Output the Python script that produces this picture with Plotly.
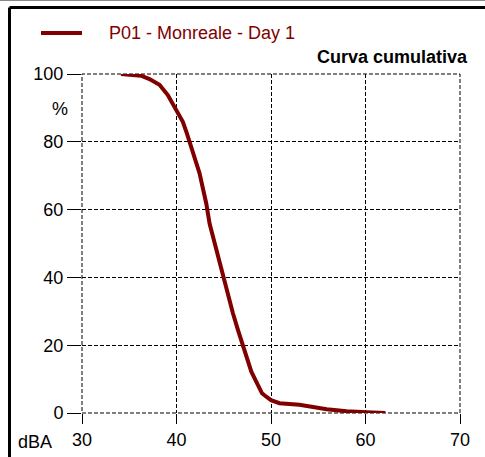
import plotly.graph_objects as go

dba = [34.13, 35.37, 36.25, 37.14, 38.20, 39.08, 39.96, 40.67, 41.10, 41.56, 42.09, 42.44,
       42.79, 43.15, 43.50, 44.03, 44.56, 45.09, 45.44, 45.97, 46.50, 47.03, 47.39, 47.92,
       48.45, 48.91, 49.05, 49.5, 50.0, 50.9, 53.0, 55.9, 58.0, 60.1, 62.1]
pct = [100.0, 99.8, 99.5, 98.5, 96.8, 93.8, 89.4, 85.9, 82.5, 78.6, 74.6, 70.7,
       66.3, 61.8, 55.9, 50.0, 44.2, 39.2, 34.3, 29.4, 24.5, 19.6, 16.1, 12.2,
       9.2, 7.0, 5.8, 4.8, 3.8, 2.9, 2.4, 1.1, 0.5, 0.2, 0.0]
x_ticks = [30, 40, 50, 60, 70]
y_ticks = [0, 20, 40, 60, 80, 100]
series_name = "P01 - Monreale - Day 1"
title_text = "Curva cumulativa"

RED = "#800000"
FONT = "Liberation Sans, Arial, sans-serif"
DASH = "4px,2px"

W, H = 485, 457
L, R, T, B = 82, 25, 74, 44
pw, ph = W - L - R, H - T - B

def px(x):
    return (x - L) / pw

def py(y):
    return (H - B - y) / ph

fig = go.Figure()
fig.add_trace(go.Scatter(x=dba, y=pct, mode="lines", name=series_name,
                         line=dict(color=RED, width=4), showlegend=False))

axis_common = dict(showgrid=True, gridcolor="black", griddash=DASH, gridwidth=1,
                   zeroline=False, showline=False, ticks="outside", tickcolor="black",
                   tickwidth=1, tickfont=dict(family=FONT, size=18, color="black"))
fig.update_xaxes(range=[30, 70], tickvals=x_ticks, ticklen=10, automargin=False, **axis_common)
fig.update_yaxes(range=[0, 100], tickvals=y_ticks, ticklen=14, automargin=False, **axis_common)

shapes = [
    # plot-area edge lines (dashed, like the grid)
    dict(type="rect", xref="x domain", yref="y domain", x0=0, x1=1, y0=0, y1=1,
         line=dict(color="black", width=1, dash=DASH), layer="below"),
    # outer frame
    dict(type="line", xref="paper", yref="paper", x0=px(9.5), x1=px(W + 5), y0=py(7.5), y1=py(7.5),
         line=dict(color="black", width=3)),
    dict(type="line", xref="paper", yref="paper", x0=px(9.5), x1=px(9.5), y0=py(7.5), y1=py(H + 5),
         line=dict(color="black", width=3)),
    dict(type="line", xref="paper", yref="paper", x0=px(0), x1=px(W), y0=py(0.5), y1=py(0.5),
         line=dict(color="#888888", width=1)),
    # legend sample line
    dict(type="line", xref="paper", yref="paper", x0=px(41), x1=px(82), y0=py(33), y1=py(33),
         line=dict(color=RED, width=4)),
]

annotations = [
    dict(text=series_name, xref="paper", yref="paper", x=px(107), y=py(33), xanchor="left",
         yanchor="middle", showarrow=False, font=dict(family=FONT, size=18, color=RED)),
    dict(text="<b>" + title_text + "</b>", xref="paper", yref="paper", x=px(470), y=py(57),
         xanchor="right", yanchor="middle", showarrow=False,
         font=dict(family=FONT, size=18, color="black")),
    dict(text="%", xref="paper", yref="paper", x=px(60), y=py(109), xanchor="center",
         yanchor="middle", showarrow=False, font=dict(family=FONT, size=18, color="black")),
    dict(text="dBA", xref="paper", yref="paper", x=px(35), y=py(442), xanchor="center",
         yanchor="middle", showarrow=False, font=dict(family=FONT, size=18, color="black")),
]

fig.update_layout(width=W, height=H, margin=dict(l=L, r=R, t=T, b=B, pad=0, autoexpand=False),
                  plot_bgcolor="white", paper_bgcolor="white",
                  shapes=shapes, annotations=annotations, showlegend=False)

fig.write_html("out.html")
